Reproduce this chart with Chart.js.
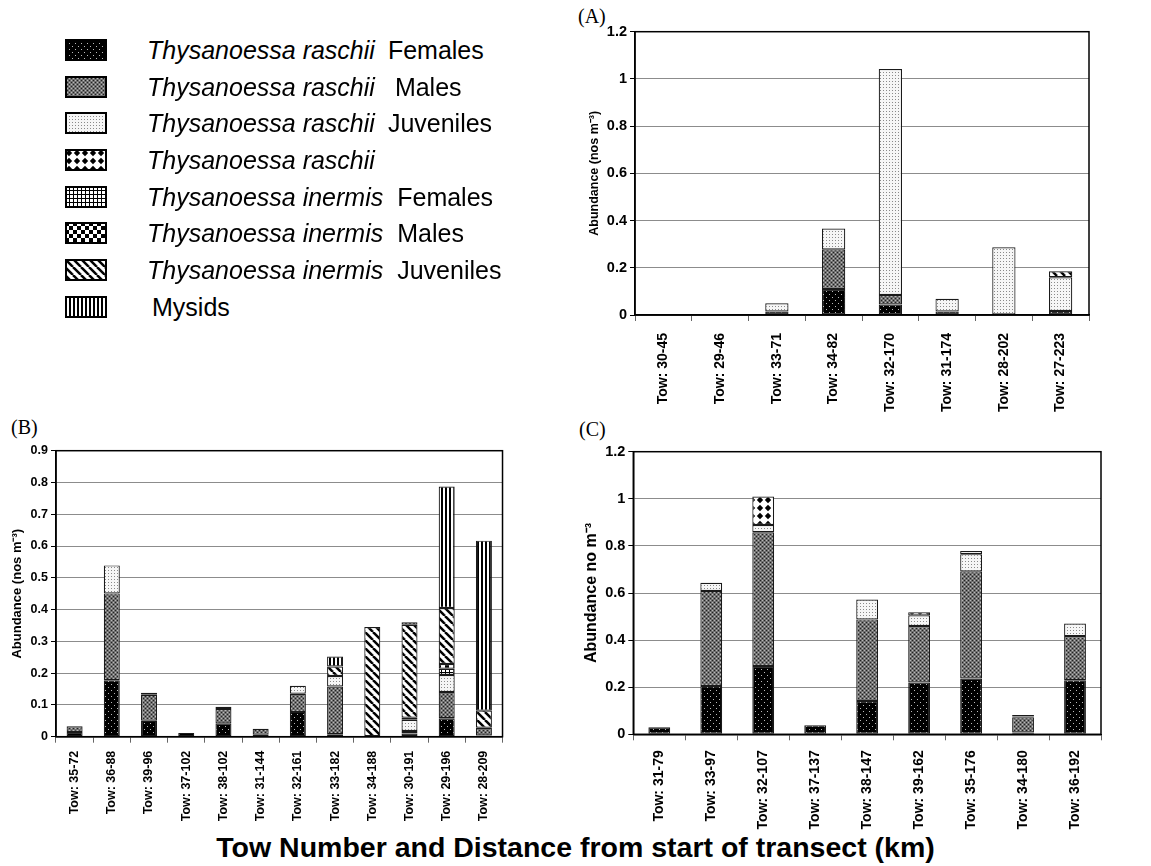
<!DOCTYPE html>
<html>
<head>
<meta charset="utf-8">
<title>Thysanoessa abundance by tow</title>
<script src="https://cdn.jsdelivr.net/npm/chart.js@4.4.1/dist/chart.umd.min.js"></script>
<style>
  body { margin: 0; background: #fff; width: 1151px; height: 866px; position: relative; overflow: hidden;
         font-family: "Liberation Sans", Arial, sans-serif; color: #000; }
  canvas.chart { position: absolute; }
  .panel { position: absolute; font-family: "Liberation Serif", "Times New Roman", serif; font-size: 20px; }
  .legend-row { position: absolute; left: 65px; height: 26px; display: flex; align-items: center;
                font-size: 25px; white-space: nowrap; }
  .legend-row canvas { width: 42px; height: 22px; margin-right: 40px; }
  #xtitle { position: absolute; left: 0; width: 1151px; top: 831px; text-align: center;
            font-weight: bold; font-size: 28.5px; }
</style>
</head>
<body>

<div id="legend"></div>

<div class="panel" style="left:578px; top:5px;">(A)</div>
<div class="panel" style="left:11px; top:416px;">(B)</div>
<div class="panel" style="left:579px; top:418px;">(C)</div>

<canvas id="chartA" class="chart" width="506" height="405" style="left:585px; top:20px;"></canvas>
<canvas id="chartB" class="chart" width="502" height="390" style="left:5px; top:440px;"></canvas>
<canvas id="chartC" class="chart" width="523" height="390" style="left:580px; top:440px;"></canvas>

<div id="xtitle">Tow Number and Distance from start of transect (km)</div>

<script>
// Series (same order in every panel, bottom of stack first)
const speciesNames = ['Thysanoessa raschii', 'Thysanoessa raschii', 'Thysanoessa raschii', 'Thysanoessa raschii',
                      'Thysanoessa inermis', 'Thysanoessa inermis', 'Thysanoessa inermis', ''];
const stageNames = ['Females', 'Males', 'Juveniles', '', 'Females', 'Males', 'Juveniles', 'Mysids'];
const patternKinds = ['rf', 'rm', 'rj', 'rr', 'if', 'im', 'ij', 'my'];

// Panel A
const towsA = ['Tow: 30-45', 'Tow: 29-46', 'Tow: 33-71', 'Tow: 34-82', 'Tow: 32-170', 'Tow: 31-174', 'Tow: 28-202', 'Tow: 27-223'];
const aRaschiiF = [0.002, 0, 0.015, 0.11, 0.045, 0.015, 0, 0.017];
const aRaschiiM = [0, 0, 0, 0.168, 0.04, 0, 0, 0];
const aRaschiiJ = [0, 0, 0.035, 0.088, 0.957, 0.054, 0.287, 0.143];
const aRaschii  = [0, 0, 0, 0, 0, 0, 0, 0];
const aInermisF = [0, 0, 0, 0, 0, 0, 0, 0];
const aInermisM = [0, 0, 0, 0, 0, 0, 0, 0];
const aInermisJ = [0, 0, 0, 0, 0, 0, 0, 0.025];
const aMysids   = [0, 0, 0, 0, 0, 0, 0, 0];

// Panel B
const towsB = ['Tow: 35-72', 'Tow: 36-88', 'Tow: 39-96', 'Tow: 37-102', 'Tow: 38-102', 'Tow: 31-144',
               'Tow: 32-161', 'Tow: 33-182', 'Tow: 34-188', 'Tow: 30-191', 'Tow: 29-196', 'Tow: 28-209'];
const bRaschiiF = [0.015, 0.178, 0.05, 0.012, 0.042, 0.006, 0.078, 0.008, 0, 0.01, 0.058, 0.004];
const bRaschiiM = [0.018, 0.273, 0.082, 0, 0.045, 0.019, 0.057, 0.15, 0, 0.008, 0.083, 0.024];
const bRaschiiJ = [0, 0.088, 0.006, 0, 0.007, 0, 0.025, 0.033, 0, 0.035, 0.053, 0];
const bRaschii  = [0, 0, 0, 0, 0, 0, 0, 0, 0, 0, 0, 0];
const bInermisF = [0, 0, 0, 0, 0, 0, 0, 0, 0, 0.007, 0.02, 0];
const bInermisM = [0, 0, 0, 0, 0, 0, 0, 0, 0, 0, 0.015, 0];
const bInermisJ = [0, 0, 0, 0, 0, 0, 0, 0.03, 0.345, 0.292, 0.176, 0.054];
const bMysids   = [0, 0, 0, 0, 0, 0, 0, 0.031, 0, 0.008, 0.382, 0.535];

// Panel C
const towsC = ['Tow: 31-79', 'Tow: 33-97', 'Tow: 32-107', 'Tow: 37-137', 'Tow: 38-147', 'Tow: 39-162',
               'Tow: 35-176', 'Tow: 34-180', 'Tow: 36-192'];
const cRaschiiF = [0.03, 0.205, 0.29, 0.038, 0.141, 0.22, 0.237, 0.008, 0.23];
const cRaschiiM = [0, 0.404, 0.568, 0, 0.347, 0.24, 0.455, 0.064, 0.187];
const cRaschiiJ = [0, 0.034, 0.031, 0, 0.084, 0.045, 0.073, 0.004, 0.053];
const cRaschii  = [0, 0, 0.121, 0, 0, 0.013, 0.013, 0.006, 0];
const cInermisF = [0, 0, 0, 0, 0, 0, 0, 0, 0];
const cInermisM = [0, 0, 0, 0, 0, 0, 0, 0, 0];
const cInermisJ = [0, 0, 0, 0, 0, 0, 0, 0, 0];
const cMysids   = [0, 0, 0, 0, 0, 0, 0, 0, 0];

// Build a repeating fill pattern for one series
function makePattern(kind) {
  const c = document.createElement('canvas');
  const g = c.getContext('2d');
  const px = (x, y, col) => { g.fillStyle = col; g.fillRect(x, y, 1, 1); };
  if (kind === 'rf') {          // black with sparse light dots
    c.width = c.height = 6;
    g.fillStyle = '#000'; g.fillRect(0, 0, 6, 6);
    px(1, 1, '#bbb'); px(4, 4, '#bbb');
  } else if (kind === 'rm') {   // dark grey stipple
    c.width = c.height = 4;
    g.fillStyle = '#707070'; g.fillRect(0, 0, 4, 4);
    px(0, 0, '#222'); px(2, 2, '#222'); px(2, 0, '#b8b8b8'); px(0, 2, '#b8b8b8');
  } else if (kind === 'rj') {   // light grey stipple
    c.width = c.height = 3;
    g.fillStyle = '#f6f6f6'; g.fillRect(0, 0, 3, 3);
    px(1, 1, '#8a8a8a');
  } else if (kind === 'rr') {   // black diamonds on white
    c.width = c.height = 8;
    g.fillStyle = '#fff'; g.fillRect(0, 0, 8, 8);
    g.fillStyle = '#000';
    g.beginPath(); g.moveTo(4, 0.8); g.lineTo(7.2, 4); g.lineTo(4, 7.2); g.lineTo(0.8, 4); g.closePath(); g.fill();
  } else if (kind === 'if') {   // fine grid
    c.width = c.height = 4;
    g.fillStyle = '#fff'; g.fillRect(0, 0, 4, 4);
    g.fillStyle = '#000'; g.fillRect(0, 0, 4, 1); g.fillRect(0, 0, 1, 4);
  } else if (kind === 'im') {   // checkerboard
    c.width = c.height = 8;
    g.fillStyle = '#fff'; g.fillRect(0, 0, 8, 8);
    g.fillStyle = '#000'; g.fillRect(0, 0, 4, 4); g.fillRect(4, 4, 4, 4);
  } else if (kind === 'ij') {   // wide diagonal hatching
    c.width = c.height = 8;
    g.fillStyle = '#fff'; g.fillRect(0, 0, 8, 8);
    g.strokeStyle = '#000'; g.lineWidth = 2.5;
    [-8, 0, 8].forEach(o => { g.beginPath(); g.moveTo(o, 0); g.lineTo(o + 8, 8); g.stroke(); });
  } else {                      // vertical lines (mysids)
    c.width = c.height = 4;
    g.fillStyle = '#fff'; g.fillRect(0, 0, 4, 4);
    g.fillStyle = '#000'; g.fillRect(0, 0, 2, 4);
  }
  return g.createPattern(c, 'repeat');
}

const patterns = patternKinds.map(makePattern);

// Legend
const legendCenters = [50, 87, 123, 160, 197, 233, 270, 307];
const stageGap = [13, 20, 13, 0, 14, 14, 14, 0];
const legend = document.getElementById('legend');
patternKinds.forEach((kind, i) => {
  const row = document.createElement('div');
  row.className = 'legend-row';
  row.style.top = (legendCenters[i] - 13) + 'px';
  const sw = document.createElement('canvas');
  sw.width = 42; sw.height = 22;
  const g = sw.getContext('2d');
  g.fillStyle = patterns[i]; g.fillRect(0, 0, 42, 22);
  g.strokeStyle = '#000'; g.lineWidth = 2; g.strokeRect(1, 1, 40, 20);
  row.appendChild(sw);
  if (speciesNames[i]) {
    const it = document.createElement('i');
    it.textContent = speciesNames[i];
    row.appendChild(it);
  }
  if (stageNames[i]) {
    const sp = document.createElement('span');
    sp.textContent = stageNames[i];
    sp.style.marginLeft = (speciesNames[i] ? stageGap[i] : 5) + 'px';
    row.appendChild(sp);
  }
  legend.appendChild(row);
});

// Black frame round the plot area
const frame = {
  id: 'frame',
  afterDraw(chart) {
    const a = chart.chartArea, ctx = chart.ctx;
    ctx.save();
    ctx.strokeStyle = '#000'; ctx.lineWidth = 1.5;
    ctx.strokeRect(a.left, a.top, a.right - a.left, a.bottom - a.top);
    ctx.restore();
  }
};

function makeChart(id, tows, rows, o) {
  const datasets = rows.map((vals, i) => ({
    label: (speciesNames[i] + ' ' + stageNames[i]).trim(),
    data: vals.map(v => v || null),
    backgroundColor: patterns[i],
    borderColor: '#1a1a1a',
    borderWidth: 1.2,
    borderSkipped: false,
    barPercentage: o.barPct,
    categoryPercentage: 1
  }));
  return new Chart(document.getElementById(id), {
    type: 'bar',
    data: { labels: tows, datasets: datasets },
    plugins: [frame],
    options: {
      responsive: false,
      animation: false,
      layout: { padding: { top: o.padTop, right: 2, bottom: 0, left: 0 } },
      plugins: { legend: { display: false }, tooltip: { enabled: false } },
      scales: {
        x: {
          stacked: true,
          afterFit: s => { s.height = o.xHeight; },
          grid: { drawOnChartArea: false, drawTicks: true, tickLength: 6, color: '#666' },
          border: { color: '#000', width: 1.5 },
          ticks: {
            autoSkip: false, minRotation: 90, maxRotation: 90, padding: o.labelPad, color: '#000',
            font: { family: '"Liberation Sans", Arial, sans-serif', weight: 'bold', size: o.labelSize }
          }
        },
        y: {
          stacked: true,
          min: 0, max: o.yMax,
          afterFit: s => { s.width = o.yWidth; },
          grid: { color: '#8c8c8c', lineWidth: 1, tickLength: 5, tickColor: '#000' },
          border: { color: '#000', width: 1.5 },
          ticks: {
            stepSize: o.yStep, padding: 3, color: '#000',
            callback: v => String(Number(v.toFixed(2))),
            font: { family: '"Liberation Sans", Arial, sans-serif', weight: 'bold', size: o.tickSize }
          },
          title: {
            display: true, text: o.yTitle, color: '#000', padding: { top: o.titlePad, bottom: 0 },
            font: { family: '"Liberation Sans", Arial, sans-serif', weight: 'bold', size: o.titleSize }
          }
        }
      }
    }
  });
}

makeChart('chartA', towsA,
  [aRaschiiF, aRaschiiM, aRaschiiJ, aRaschii, aInermisF, aInermisM, aInermisJ, aMysids],
  { yMax: 1.2, yStep: 0.2, yTitle: 'Abundance (nos m\u207B\u00B3)', titleSize: 12.5, titlePad: 2.5,
    tickSize: 14.5, labelSize: 14, labelPad: 12, yWidth: 50, xHeight: 110, padTop: 11.7, barPct: 0.41 });

makeChart('chartB', towsB,
  [bRaschiiF, bRaschiiM, bRaschiiJ, bRaschii, bInermisF, bInermisM, bInermisJ, bMysids],
  { yMax: 0.9, yStep: 0.1, yTitle: 'Abundance (nos m\u207B\u00B3)', titleSize: 13, titlePad: 4.7,
    tickSize: 12.5, labelSize: 12.5, labelPad: 8, yWidth: 51, xHeight: 93.3, padTop: 10.7, barPct: 0.43 });

makeChart('chartC', towsC,
  [cRaschiiF, cRaschiiM, cRaschiiJ, cRaschii, cInermisF, cInermisM, cInermisJ, cMysids],
  { yMax: 1.2, yStep: 0.2, yTitle: 'Abundance no m\u207B\u00B3', titleSize: 16, titlePad: 2.4,
    tickSize: 14.5, labelSize: 14, labelPad: 10, yWidth: 53.3, xHeight: 95.7, padTop: 11.3, barPct: 0.42 });
</script>
</body>
</html>
